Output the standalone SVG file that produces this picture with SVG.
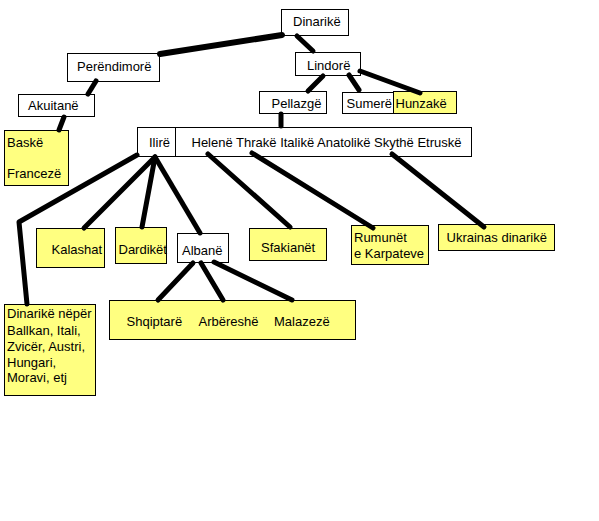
<svg xmlns="http://www.w3.org/2000/svg" width="599" height="521" viewBox="0 0 599 521">
<style>
.b{fill:#ffffff;stroke:#000;stroke-width:1}
.y{fill:#ffff80;stroke:#000;stroke-width:1}
text{font-family:"Liberation Sans",Arial,sans-serif;font-size:13px;fill:#000}
.c line,.c polyline{stroke:#000;stroke-width:5;stroke-linecap:round;stroke-linejoin:round;fill:none}
</style>
<rect width="599" height="521" fill="#fff"/>
<g id="n-dinarike"><rect class="b" x="281.5" y="9.5" width="67" height="26"/><text x="293" y="26">Dinarikë</text></g>
<g id="n-perendimore"><rect class="b" x="67.5" y="53.5" width="92" height="28"/><text x="77" y="71">Perëndimorë</text></g>
<g id="n-akuitane"><rect class="b" x="18.5" y="94.5" width="76" height="22"/><text x="28" y="109.5">Akuitanë</text></g>
<g id="n-baske"><rect class="y" x="4.5" y="130.5" width="64" height="55"/><text x="7" y="147">Baskë</text><text x="7" y="178">Francezë</text></g>
<g id="n-lindore"><rect class="b" x="295.5" y="52.5" width="65" height="23"/><text x="307" y="69.5">Lindorë</text></g>
<g id="n-pellazge"><rect class="b" x="259.5" y="91.5" width="67" height="22"/><text x="271.5" y="107.5">Pellazgë</text></g>
<g id="n-sumere"><rect class="b" x="342.5" y="92.5" width="51" height="21"/><text x="346.5" y="107.5">Sumerë</text></g>
<g id="n-hunzake"><rect class="y" x="393.5" y="91.5" width="63" height="22"/><text x="395.5" y="107.5">Hunzakë</text></g>
<g id="n-ilire"><rect class="b" x="137.5" y="127.5" width="38" height="29"/><text x="149" y="147">Ilirë</text></g>
<g id="n-helene"><rect class="b" x="175.5" y="127.5" width="296" height="29"/><text x="191.5" y="147">Helenë Thrakë Italikë Anatolikë Skythë Etruskë</text></g>
<g id="n-kalashat"><rect class="y" x="36.5" y="228.5" width="68" height="39"/><text x="51.5" y="253.5">Kalashat</text></g>
<g id="n-dardiket"><rect class="y" x="115.5" y="227.5" width="51" height="36"/><text x="118.5" y="253.5">Dardikët</text></g>
<g id="n-albane"><rect class="b" x="177.5" y="233.5" width="51" height="29"/><text x="182" y="254.5">Albanë</text></g>
<g id="n-sfakianet"><rect class="y" x="249.5" y="228.5" width="77" height="32"/><text x="261" y="252">Sfakianët</text></g>
<g id="n-rumunet"><rect class="y" x="351.5" y="225.5" width="77" height="39"/><text x="354" y="242">Rumunët</text><text x="354" y="258">e Karpateve</text></g>
<g id="n-ukrainas"><rect class="y" x="438.5" y="224.5" width="116" height="26"/><text x="446.5" y="242">Ukrainas dinarikë</text></g>
<g id="n-shqiptare"><rect class="y" x="109.5" y="300.5" width="246" height="39"/><text x="126.5" y="325.5">Shqiptarë</text><text x="198.5" y="325.5">Arbëreshë</text><text x="274" y="325.5">Malazezë</text></g>
<g id="n-neper"><rect class="y" x="4.5" y="304.5" width="91" height="91"/><text x="7" y="318">Dinarikë nëpër</text><text x="7" y="334.5">Ballkan, Itali,</text><text x="7" y="350.5">Zvicër, Austri,</text><text x="7" y="366.5">Hungari,</text><text x="7" y="382">Moravi, etj</text></g>
<g id="connectors" class="c">
<line x1="282" y1="35" x2="160" y2="54" style="stroke-width:6"/>
<line x1="297" y1="36" x2="313" y2="51"/>
<line x1="96" y1="81" x2="88" y2="94"/>
<line x1="64" y1="117" x2="59" y2="130"/>
<line x1="323" y1="76" x2="308" y2="91"/>
<line x1="349" y1="75" x2="359" y2="90"/>
<line x1="360" y1="71" x2="420" y2="93"/>
<line x1="281" y1="114" x2="281" y2="126"/>
<polyline points="137,155 19,222 27,304"/>
<line x1="155" y1="157" x2="84" y2="228"/>
<line x1="155" y1="157" x2="142" y2="227"/>
<line x1="155" y1="157" x2="200" y2="233"/>
<line x1="208" y1="154" x2="290" y2="227"/>
<line x1="252" y1="153" x2="373" y2="228"/>
<line x1="392" y1="154" x2="484" y2="227"/>
<line x1="193" y1="263" x2="158" y2="300"/>
<line x1="201" y1="263" x2="223" y2="300"/>
<line x1="214" y1="262" x2="292" y2="300"/>
</g>
</svg>
